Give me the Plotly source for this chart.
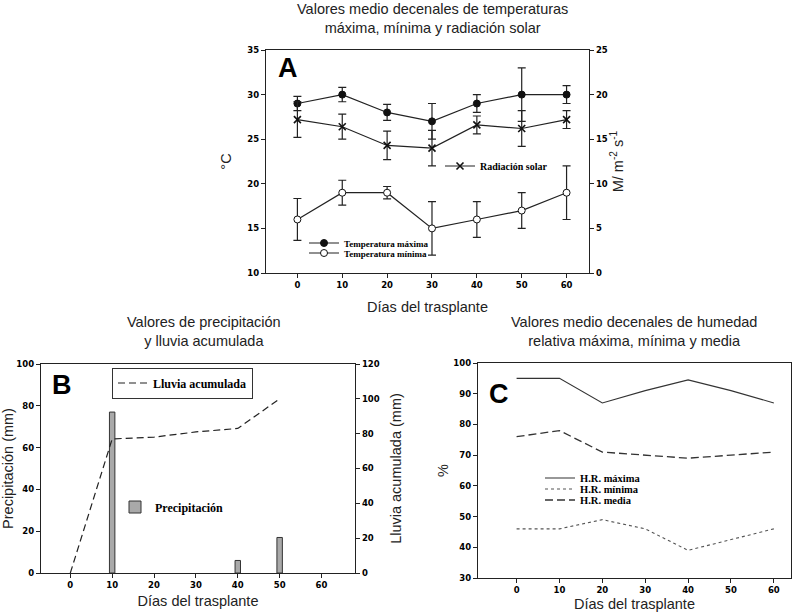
import plotly.graph_objects as go

# ---------------- data ----------------
dias = [0, 10, 20, 30, 40, 50, 60]

# Panel A
tmax = [29, 30, 28, 27, 29, 30, 30]
tmax_err = [0.8, 0.8, 0.9, 2.0, 1.0, 3.0, 1.0]
tmin = [16, 19, 19, 15, 16, 17, 19]
tmin_err = [2.35, 1.4, 0.7, 3.0, 2.0, 2.0, 3.0]
rad = [17.2, 16.4, 14.3, 14.0, 16.6, 16.2, 17.2]
rad_err = [2.0, 1.4, 1.6, 2.0, 1.0, 2.0, 1.0]

# Panel B
dias_precip = [10, 40, 50]
precip = [77, 6, 17]
dias_lluvia = [0, 10, 20, 30, 40, 50]
lluvia_acum = [0, 77, 78, 81, 83, 100]

# Panel C
hr_max = [95, 95, 87, 91, 94.5, 91, 87]
hr_min = [46, 46, 49, 46, 39, 42.5, 46]
hr_media = [76, 78, 71, 70, 69, 70, 71]

W, H = 800, 613
def px(x):
    return x / W
def py(y):
    return 1 - y / H

INK = "#222222"
tickfont = dict(family="DejaVu Sans", size=8.5, color="#000", weight="bold")
titlefont = dict(family="Liberation Sans", size=14.5, color=INK)
def legfont(size):
    return dict(family="Liberation Serif", size=size, color="#000", weight="bold")

fig = go.Figure()

eb = dict(type="data", visible=True, color=INK, thickness=1.2, width=4)

# ---- Panel A traces ----
fig.add_trace(go.Scatter(
    x=dias, y=tmax, mode="lines+markers", name="Temperatura máxima",
    line=dict(color=INK, width=1.2),
    marker=dict(symbol="circle", size=7, color="#111", line=dict(color="#111", width=1)),
    error_y=dict(array=tmax_err, **eb), xaxis="x", yaxis="y", legend="legend2"))
fig.add_trace(go.Scatter(
    x=dias, y=tmin, mode="lines+markers", name="Temperatura mínima",
    line=dict(color=INK, width=1.2),
    marker=dict(symbol="circle", size=7, color="white", line=dict(color="#111", width=1)),
    error_y=dict(array=tmin_err, **eb), xaxis="x", yaxis="y", legend="legend3"))
fig.add_trace(go.Scatter(
    x=dias, y=rad, mode="lines+markers", name="Radiación solar",
    line=dict(color=INK, width=1.2),
    marker=dict(symbol="x-thin", size=7, color="#111", line=dict(color="#111", width=1.6)),
    error_y=dict(array=rad_err, **eb), xaxis="x", yaxis="y2", legend="legend"))

# ---- Panel B traces ----
fig.add_trace(go.Bar(
    x=dias_precip, y=precip, width=1.3, name="Precipitación",
    marker=dict(color="#a9a9a9", line=dict(color="#333", width=1)),
    xaxis="x2", yaxis="y3", legend="legend5"))
fig.add_trace(go.Scatter(
    x=dias_lluvia, y=lluvia_acum, mode="lines", name="Lluvia acumulada",
    line=dict(color=INK, width=1.2, dash="7px,4px"),
    xaxis="x2", yaxis="y4", legend="legend4"))

# ---- Panel C traces ----
fig.add_trace(go.Scatter(
    x=dias, y=hr_max, mode="lines", name="H.R. máxima",
    line=dict(color="#333", width=1.1), xaxis="x3", yaxis="y5", legend="legend6"))
fig.add_trace(go.Scatter(
    x=dias, y=hr_min, mode="lines", name="H.R. mínima",
    line=dict(color="#555", width=1.1, dash="dot"), xaxis="x3", yaxis="y5", legend="legend7"))
fig.add_trace(go.Scatter(
    x=dias, y=hr_media, mode="lines", name="H.R. media",
    line=dict(color="#333", width=1.3, dash="8px,4px"), xaxis="x3", yaxis="y5", legend="legend8"))

axis_common = dict(showline=True, linecolor=INK, linewidth=1.4, ticks="outside",
                   ticklen=4, tickcolor=INK, tickwidth=1.2, showgrid=False,
                   zeroline=False, tickfont=tickfont, automargin=False)

fig.update_layout(
    width=W, height=H, margin=dict(l=0, r=0, t=0, b=0), showlegend=True,
    paper_bgcolor="white", plot_bgcolor="white", barmode="overlay",
    # Panel A
    xaxis=dict(domain=[px(266), px(589)], range=[-7, 65], anchor="y", tickvals=dias,
               mirror=True, title=dict(text="Días del trasplante", font=titlefont, standoff=12),
               **axis_common),
    yaxis=dict(domain=[py(273), py(50)], range=[10, 35], dtick=5, anchor="x",
               title=dict(text="°C", font=titlefont, standoff=12), **axis_common),
    yaxis2=dict(overlaying="y", side="right", range=[0, 25], dtick=5, anchor="x",
                title=dict(text="M/ m<sup>-2</sup> s<sup>-1</sup>", font=titlefont, standoff=6),
                **axis_common),
    # Panel B
    xaxis2=dict(domain=[px(41), px(355)], range=[-7, 68], anchor="y3", tickvals=[0, 10, 20, 30, 40, 50, 60],
                mirror=True, title=dict(text="Días del trasplante", font=titlefont, standoff=6),
                **axis_common),
    yaxis3=dict(domain=[py(573), py(364)], range=[0, 100], dtick=20, anchor="x2",
                title=dict(text="Precipitación (mm)", font=titlefont, standoff=0), **axis_common),
    yaxis4=dict(overlaying="y3", side="right", range=[0, 120], dtick=20, anchor="x2",
                title=dict(text="Lluvia acumulada (mm)", font=titlefont, standoff=12),
                **axis_common),
    # Panel C
    xaxis3=dict(domain=[px(478), px(791)], range=[-9, 64], anchor="y5", tickvals=dias,
                mirror=True, title=dict(text="Días del trasplante", font=titlefont, standoff=4),
                **axis_common),
    yaxis5=dict(domain=[py(578), py(363)], range=[30, 100], dtick=10, anchor="x3", mirror=True,
                title=dict(text="%", font=titlefont, standoff=1), **axis_common),
)

def leg(x_left, y_center, size, border=False):
    d = dict(x=px(x_left), y=py(y_center), xanchor="left", yanchor="middle",
             font=legfont(size), bgcolor="rgba(0,0,0,0)", itemwidth=30, tracegroupgap=0)
    if border:
        d.update(bordercolor="#333", borderwidth=1)
    return d

fig.update_layout(
    legend=leg(440, 166, 10),
    legend2=leg(304, 243, 9),
    legend3=leg(304, 253, 9),
    legend4=leg(112, 383, 12, border=True),
    legend5=leg(115, 507, 12),
    legend6=leg(540, 478, 10.5),
    legend7=leg(540, 489, 10.5),
    legend8=leg(540, 500, 10.5),
)

annfont = dict(family="Liberation Sans", size=14.5, color=INK)
letfont = dict(family="Liberation Sans", size=27, color="#000", weight="bold")
def ann(x, y, text, font):
    fig.add_annotation(x=px(x), y=py(y), xref="paper", yref="paper", showarrow=False,
                       xanchor="center", yanchor="middle", text=text, font=font, align="center")

ann(432, 19, "Valores medio decenales de temperaturas<br>máxima, mínima y radiación solar", annfont)
ann(204, 331, "Valores de precipitación<br>y lluvia acumulada", annfont)
ann(634, 331, "Valores medio decenales de humedad<br>relativa máxima, mínima y media", annfont)
ann(288, 68, "A", letfont)
ann(62, 385, "B", letfont)
ann(499, 394, "C", letfont)

# remove the default 8px page margin so the 800x613 figure fills the window
fig.write_html("out.html", config={"displayModeBar": False},
               post_script="document.body.style.margin='0px';")
